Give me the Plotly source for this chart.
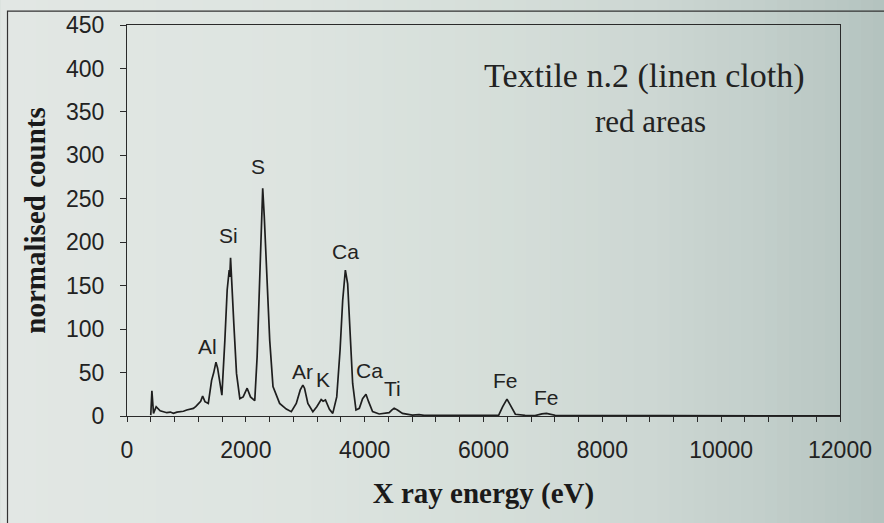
import plotly.graph_objects as go

# ---- data ----
energy_ev = [400, 419, 446, 491, 558, 620, 670, 730, 781, 840, 893, 950, 1005, 1060,
             1117, 1160, 1200, 1240, 1273, 1312, 1368, 1424, 1460, 1497, 1525, 1552,
             1597, 1647, 1686, 1720, 1730, 1743, 1765, 1798, 1843, 1899, 1955, 2022,
             2078, 2150, 2190, 2234, 2260, 2284, 2310, 2346, 2402, 2457, 2569, 2681,
             2765, 2849, 2916, 2960, 2988, 3044, 3128, 3194, 3268, 3300, 3340, 3407,
             3463, 3530, 3586, 3630, 3675, 3714, 3754, 3798, 3854, 3910, 3965, 4022,
             4066, 4133, 4245, 4330, 4412, 4460, 4496, 4552, 4636, 4803, 4915, 5000,
             5400, 5800, 6100, 6256, 6323, 6395, 6452, 6536, 6700, 6870, 6982, 7060,
             7206, 7600, 8200, 9000, 9800, 10400, 11000, 11600, 12000]
counts = [1, 29, 3, 10.7, 6, 5, 3.8, 4.5, 3, 4.5, 5, 5.5, 6.9, 7.5,
          8.8, 11, 14.5, 17, 23, 16.5, 14.5, 41, 50, 62, 55, 45,
          24, 87, 145, 168, 160, 182, 156, 106, 49, 20, 22, 32,
          22, 17.6, 68, 164, 220, 262, 230, 179, 87, 34, 14.5, 8,
          5, 14.5, 30, 35.6, 32, 14.5, 5, 10.7, 19, 17, 18.4, 7.7,
          3, 22, 76, 133, 168, 152, 95, 37.5, 6.9, 8.8, 20, 25,
          16.5, 5, 2.3, 3, 3.8, 7, 8.8, 6.9, 3, 1.1, 1.5, 0.8,
          0.8, 0.6, 1, 1.1, 10.7, 19.5, 12.6, 2, 0.8, 0.5, 2.5, 3,
          0.8, 0.5, 0.5, 0.4, 0.4, 0.5, 0.3, 0.3, 0.2]

peak_labels = ["Al", "Si", "S", "Ar", "K", "Ca", "Ca", "Ti", "Fe", "Fe"]
peak_label_energy = [1350, 1714, 2212, 2960, 3306, 3670, 4089, 4468, 6378, 7061]
peak_label_counts = [80, 208, 287, 51, 42, 189, 52, 32, 41, 21]

x_ticks = [0, 2000, 4000, 6000, 8000, 10000, 12000]
y_ticks = [0, 50, 100, 150, 200, 250, 300, 350, 400, 450]

W, H = 884, 523
ML, MR, MT, MB = 127, 41, 24, 107
PW, PH = W - ML - MR, H - MT - MB

def px_to_paper_x(px):
    return (px - ML) / PW

def py_to_paper_y(py):
    return (H - MB - py) / PH

fig = go.Figure()

fig.add_trace(go.Scatter(
    x=energy_ev, y=counts, mode="lines",
    line=dict(color="#1e1e1e", width=1.7),
    showlegend=False, hoverinfo="x+y",
))

# peak labels
for lab, ex, cy in zip(peak_labels, peak_label_energy, peak_label_counts):
    fig.add_annotation(x=ex, y=cy, xref="x", yref="y", text=lab, showarrow=False,
                       xanchor="center", yanchor="middle",
                       font=dict(family="Liberation Sans, Arial", size=21, color="#222222"))

# background gradient (scan-like), drawn as thin stripes
stops = [(0, (226, 231, 228)), (300, (221, 228, 224)), (500, (213, 222, 217)),
         (650, (205, 215, 211)), (760, (195, 207, 203)), (884, (180, 195, 191))]

def col_at(px):
    for (a, ca), (b, cb) in zip(stops[:-1], stops[1:]):
        if a <= px <= b:
            t = (px - a) / (b - a)
            return tuple(round(ca[i] + (cb[i] - ca[i]) * t) for i in range(3))
    return stops[-1][1]

step = 12
shapes = []
for x0 in range(0, W, step):
    c = col_at(x0 + step / 2)
    shapes.append(dict(type="rect", xref="paper", yref="paper",
                       x0=px_to_paper_x(x0), x1=px_to_paper_x(x0 + step + 1),
                       y0=py_to_paper_y(H + 5), y1=py_to_paper_y(-5),
                       fillcolor="rgb(%d,%d,%d)" % c, line=dict(width=0), layer="below"))
# outer frame of the scanned figure
shapes.append(dict(type="rect", xref="paper", yref="paper",
                   x0=px_to_paper_x(7), x1=px_to_paper_x(W + 10),
                   y0=py_to_paper_y(H + 10), y1=py_to_paper_y(10),
                   fillcolor="rgba(0,0,0,0)", line=dict(color="#333333", width=1.2),
                   layer="below"))

fig.add_annotation(x=px_to_paper_x(647), y=py_to_paper_y(75), xref="paper", yref="paper",
                   text="Textile n.2 (linen cloth)", showarrow=False,
                   xanchor="center", yanchor="middle",
                   font=dict(family="Liberation Serif, Times New Roman", size=34, color="#222222"))
fig.add_annotation(x=px_to_paper_x(653), y=py_to_paper_y(121), xref="paper", yref="paper",
                   text="red areas", showarrow=False,
                   xanchor="center", yanchor="middle",
                   font=dict(family="Liberation Serif, Times New Roman", size=31, color="#222222"))

axis_font = dict(family="Liberation Sans, Arial", size=23, color="#222222")
title_font = dict(family="Liberation Serif, Times New Roman", size=29, color="#1a1a1a")

fig.update_layout(
    width=W, height=H,
    margin=dict(l=ML, r=MR, t=MT, b=MB),
    paper_bgcolor="rgb(215,223,219)",
    plot_bgcolor="rgba(0,0,0,0)",
    shapes=shapes,
    xaxis=dict(
        range=[0, 12000], tickvals=x_ticks, ticktext=[str(v) for v in x_ticks],
        showgrid=False, zeroline=False, showline=True, mirror=True,
        linecolor="#2a2a2a", linewidth=1.2,
        ticks="outside", ticklen=5, tickcolor="#2a2a2a", tickwidth=1,
        minor=dict(dtick=400, tick0=0, ticks="outside", ticklen=5, tickcolor="#2a2a2a",
                   tickwidth=1, showgrid=False),
        tickfont=axis_font, ticklabelstandoff=8,
        title=dict(text="<b>X ray energy (eV)</b>", font=title_font, standoff=20),
    ),
    yaxis=dict(
        range=[0, 450], tickvals=y_ticks, ticktext=[str(v) for v in y_ticks],
        showgrid=False, zeroline=False, showline=True, mirror=True,
        linecolor="#2a2a2a", linewidth=1.2,
        ticks="outside", ticklen=6, tickcolor="#2a2a2a", tickwidth=1,
        tickfont=axis_font, ticklabelstandoff=11,
        title=dict(text="<b>normalised counts</b>", font=title_font, standoff=11),
    ),
)

fig.write_html("out.html")
